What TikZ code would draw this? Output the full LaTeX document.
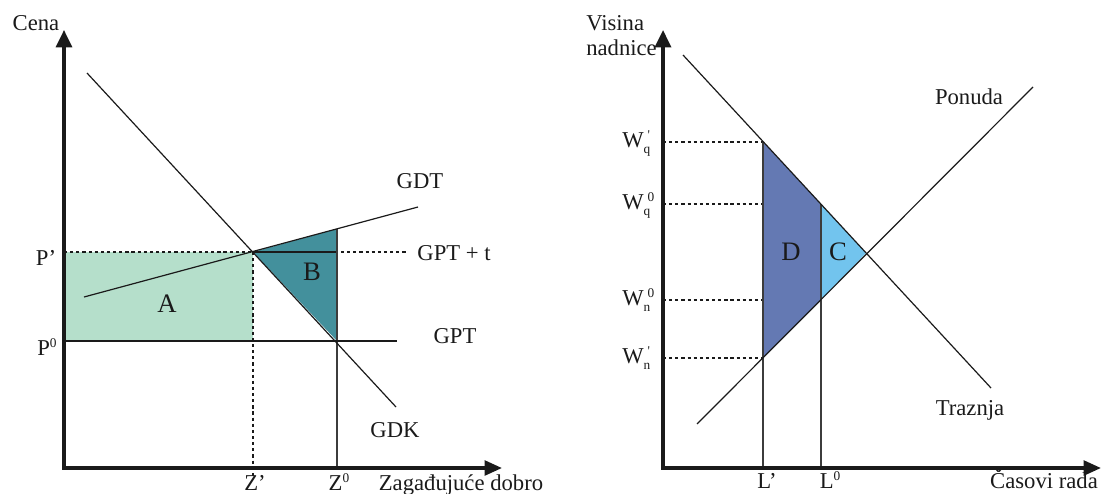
\documentclass[tikz,border=0pt]{standalone}
\usepackage{fontspec}
\setmainfont{Liberation Serif}
\usetikzlibrary{arrows.meta,calc,positioning}
\definecolor{povrsA}{HTML}{B5DFCB}
\definecolor{povrsB}{HTML}{43909C}
\definecolor{povrsC}{HTML}{72C4EE}
\definecolor{povrsD}{HTML}{6479B3}
\definecolor{linija}{HTML}{1A1A1A}
\definecolor{ivica}{HTML}{3C3C3C}
\newcommand{\wlab}[2]{W\rlap{\raisebox{-0.65ex}{\fontsize{10}{10}\selectfont #1}}\raisebox{0.75ex}{\fontsize{10}{10}\selectfont\hspace{0.3em}#2}}
\newcommand{\nula}{\raisebox{0.75ex}{\fontsize{10}{10}\selectfont 0}}
\tikzset{
  osa/.style={draw=linija,line width=2.5pt,line join=miter,{Triangle[length=13pt,width=12pt]}-{Triangle[length=13pt,width=11pt]}},
  kriva/.style={draw=linija,line width=0.9pt},
  tackasta/.style={draw=linija,line width=1.3pt,dash pattern=on 2.4pt off 2.2pt},
  uspravna/.style={draw=ivica,line width=0.9pt},
  oznaka/.style={font=\fontsize{17}{20}\selectfont,text=linija,inner sep=0pt,anchor=base},
  povrsina/.style={oznaka,font=\fontsize{20}{22}\selectfont},
}

\begin{document}
\begin{tikzpicture}[x=0.75pt,y=-0.75pt]
\useasboundingbox (0,0) rectangle (1102,493);
\coordinate (o1) at (64,468);
\coordinate (y1) at (64,30);
\coordinate (x1) at (502,468);
\coordinate (e1) at (253,252);
\coordinate (e0) at (337,341);
\coordinate (t0) at (337,229);
\coordinate (k1) at (87,73);
\coordinate (k2) at (396,407);
\coordinate (t1) at (84,297);
\coordinate (t2) at (418,207);
\coordinate (p1) at (64,252);
\coordinate (p0) at (64,341);
\coordinate (g2) at (397,341);
\coordinate (f1) at (341,252);
\coordinate (f2) at (407,252);
\coordinate (zc) at (337,252);
\coordinate (za) at (253,476);
\coordinate (zb) at (337,468);
\coordinate (o2) at (663,468);
\coordinate (y2) at (663,30);
\coordinate (x2) at (1101,468);
\coordinate (d1) at (683,55);
\coordinate (d2) at (991,388);
\coordinate (s1) at (697,424);
\coordinate (s2) at (1033,87);
\coordinate (lq) at (763,142);
\coordinate (ln) at (763,358);
\coordinate (mq) at (821,204);
\coordinate (mn) at (821,300);
\coordinate (eq) at (866,253);
\coordinate (la) at (763,468);
\coordinate (lb) at (821,468);
\coordinate (wq1) at (663,142);
\coordinate (wq0) at (663,204);
\coordinate (wn0) at (663,300);
\coordinate (wn1) at (663,358);
\fill[povrsA] (p1) rectangle (e0 -| e1);
\fill[povrsB] (e1) -- (t0) -- (e0) -- cycle;
\fill[povrsD] (lq) -- (mq) -- (mn) -- (ln) -- cycle;
\fill[povrsC] (mq) -- (eq) -- (mn) -- cycle;
\draw[tackasta] (p1) -- (e1);
\draw[tackasta] (e1) -- (za);
\draw[tackasta] (f1) -- (f2);
\draw[kriva] (e1) -- (zc);
\draw[uspravna] (t0) -- (zb);
\draw[kriva] (p0) -- (g2);
\draw[kriva] (k1) -- (k2);
\draw[kriva] (t1) -- (t2);
\draw[osa] (y1) -- (o1) -- (x1);
\draw[tackasta] (wq1) -- (lq);
\draw[tackasta] (wq0) -- (mq -| lq);
\draw[tackasta] (wn0) -- (mn -| lq);
\draw[tackasta] (wn1) -- (ln);
\draw[uspravna] (lq) -- (la);
\draw[uspravna] (mq) -- (lb);
\draw[kriva] (d1) -- (d2);
\draw[kriva] (s1) -- (s2);
\draw[osa] (y2) -- (o2) -- (x2);
\node[oznaka] (cena) at (36,30) {Cena};
\node[oznaka] (gdt) at (420,188) {GDT};
\node[oznaka] (gptt) at (454,260) {GPT + t};
\node[oznaka] (gpt) at (455,343) {GPT};
\node[oznaka] (gdk) at (395,437) {GDK};
\node[povrsina] (povA) at (167,312) {A};
\node[povrsina] (povB) at (312,280) {B};
\node[oznaka] (pcrt) at (46,265) {P’};
\node[oznaka] (pnul) at (47,355) {P\nula};
\node[oznaka] (zcrt) at (255,490) {Z’};
\node[oznaka] (znul) at (339,490) {Z\nula};
\node[oznaka] (dobro) at (461,490) {Zagađujuće dobro};
\node[oznaka,anchor=base west] (visina) at (586,30) {Visina};
\node[oznaka,anchor=base west] (nadnice) at (586,55) {nadnice};
\node[oznaka] (ponuda) at (969,104) {Ponuda};
\node[oznaka] (traznja) at (970,415) {Traznja};
\node[povrsina] (povD) at (791,260) {D};
\node[povrsina] (povC) at (838,260) {C};
\node[oznaka] (lcrt) at (767,488) {L’};
\node[oznaka] (lnul) at (830,488) {L\nula};
\node[oznaka] (casovi) at (1044,488) {Časovi rada};
\node[oznaka,anchor=base west] (wlq1) at (622,147) {\wlab{q}{\textquotesingle}};
\node[oznaka,anchor=base west] (wlq0) at (622,209) {\wlab{q}{0}};
\node[oznaka,anchor=base west] (wln0) at (622,305) {\wlab{n}{0}};
\node[oznaka,anchor=base west] (wln1) at (622,363) {\wlab{n}{\textquotesingle}};
\end{tikzpicture}
\end{document}
